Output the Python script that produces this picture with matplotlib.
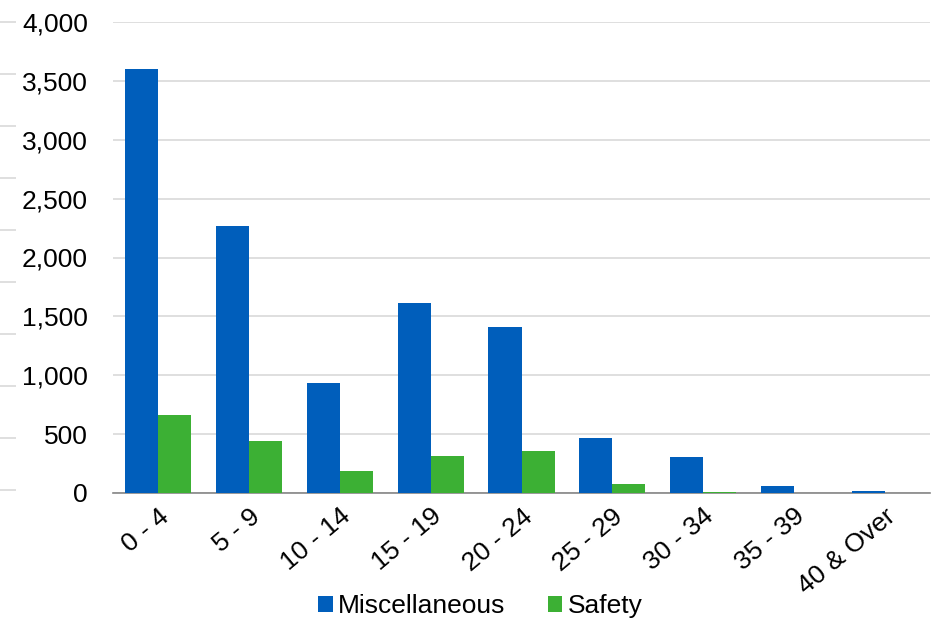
import numpy as np
import matplotlib.pyplot as plt
from matplotlib.ticker import FuncFormatter

plt.rcParams['font.family'] = ['Liberation Sans', 'DejaVu Sans']

categories = ['0 - 4', '5 - 9', '10 - 14', '15 - 19', '20 - 24',
              '25 - 29', '30 - 34', '35 - 39', '40 & Over']
misc = [3600, 2265, 935, 1615, 1410, 465, 308, 62, 17]
safety = [662, 442, 187, 314, 357, 76, 8, 0, 0]

BLUE = '#005ebb'
GREEN = '#3cb034'

fig = plt.figure(figsize=(9.33, 6.23), dpi=100)
W, H = 933, 623
ax = fig.add_axes([113 / W, 1 - 493 / H, (930 - 113) / W, (493 - 22) / H])

x = np.arange(len(categories))
w = 0.364
ax.bar(x - w / 2, misc, w, color=BLUE, label='Miscellaneous', zorder=3)
ax.bar(x + w / 2, safety, w, color=GREEN, label='Safety', zorder=3)

ax.set_xlim(-0.5, len(categories) - 0.5)
ax.set_ylim(0, 4000)
ax.set_yticks(np.arange(0, 4001, 500))
ax.yaxis.set_major_formatter(FuncFormatter(lambda v, p: f'{int(v):,}'))
ax.grid(axis='y', color='#d9d9d9', linewidth=1.2)
ax.set_axisbelow(True)
for s in ['top', 'right', 'left']:
    ax.spines[s].set_visible(False)
ax.spines['bottom'].set_color('#868686')
ax.spines['bottom'].set_linewidth(1.2)
ax.spines['bottom'].set_zorder(2)
ax.tick_params(axis='y', length=0, pad=18, labelsize=19)
ax.tick_params(axis='x', length=0, pad=8, labelsize=19)
ax.set_xticks(x)
ax.set_xticklabels(categories, rotation=40, ha='right', rotation_mode='anchor')

# stray tick marks at the far left edge
ax2 = fig.add_axes([16 / W, 1 - 490 / H, 0.001, (490 - 22) / H])
ax2.set_ylim(0, 9)
ax2.set_yticks(np.arange(0, 10))
ax2.set_yticklabels([])
ax2.set_xticks([])
for s in ax2.spines.values():
    s.set_visible(False)
ax2.tick_params(axis='y', length=16, color='#d9d9d9', width=1.2)
ax2.patch.set_visible(False)

fig.legend(loc='lower center', bbox_to_anchor=(0.515, -0.03), ncol=2, frameon=False,
           fontsize=19, handlelength=0.55, handleheight=0.55, handletextpad=0.2,
           columnspacing=1.6)

fig.savefig('out.png', dpi=100)
